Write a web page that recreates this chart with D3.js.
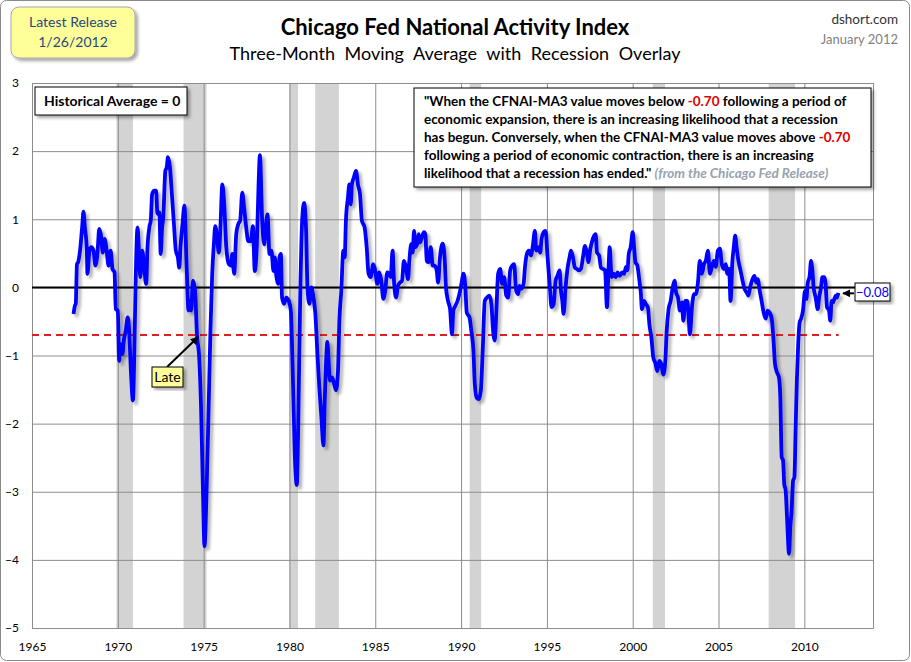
<!DOCTYPE html>
<html><head><meta charset="utf-8">
<script src="https://cdn.jsdelivr.net/npm/d3@7/dist/d3.min.js"></script>
<style>
html,body{margin:0;padding:0;background:#fff;}
svg text{font-family:Lato,"Open Sans",sans-serif;}
</style></head>
<body><svg id="chart" width="911" height="662"></svg>
<script>
// ---- DATA ----
const xTicks = [1965,1970,1975,1980,1985,1990,1995,2000,2005,2010];
const yTicks = [-5,-4,-3,-2,-1,0,1,2,3];
const recessions = [[1969.92,1970.88],[1973.83,1975.17],[1980.0,1980.5],[1981.5,1982.88],[1990.5,1991.17],[2001.17,2001.88],[2007.92,2009.46]];
const cfnaiMA3 = [
[1967.42,-0.39],[1967.5,-0.27],[1967.55,-0.24],[1967.62,0.34],[1967.69,0.37],[1967.8,0.54],[1967.92,0.88],[1968.0,1.11],[1968.08,0.88],[1968.19,0.59],[1968.23,0.2],[1968.35,0.54],[1968.46,0.59],[1968.58,0.54],[1968.7,0.32],[1968.81,0.49],[1968.92,0.86],[1969.04,0.73],[1969.12,0.51],[1969.23,0.71],[1969.35,0.54],[1969.46,0.32],[1969.58,0.54],[1969.69,0.27],[1969.81,0.22],[1969.88,-0.32],[1970.0,-0.34],[1970.08,-1.08],[1970.15,-0.83],[1970.27,-0.98],[1970.35,-0.78],[1970.46,-0.64],[1970.58,-0.44],[1970.65,-0.59],[1970.77,-1.27],[1970.88,-1.66],[1970.96,-0.98],[1971.04,0.1],[1971.15,0.88],[1971.23,0.54],[1971.31,0.15],[1971.42,0.54],[1971.54,0.29],[1971.65,0.05],[1971.73,0.59],[1971.85,0.9],[1971.92,0.98],[1972.0,1.37],[1972.12,1.42],[1972.23,1.42],[1972.31,1.08],[1972.42,1.1],[1972.5,0.49],[1972.58,0.88],[1972.65,1.03],[1972.77,1.71],[1972.85,1.76],[1972.92,1.91],[1973.04,1.76],[1973.15,1.37],[1973.27,0.93],[1973.38,0.54],[1973.5,0.44],[1973.58,0.29],[1973.65,0.59],[1973.77,0.93],[1973.88,1.2],[1974.0,0.39],[1974.12,-0.34],[1974.19,-0.2],[1974.27,-0.34],[1974.38,0.1],[1974.5,-0.05],[1974.62,-0.73],[1974.73,-0.98],[1974.85,-1.76],[1974.96,-2.98],[1975.05,-3.8],[1975.17,-3.0],[1975.28,-1.9],[1975.4,-0.6],[1975.5,0.2],[1975.6,0.65],[1975.68,0.9],[1975.78,0.73],[1975.89,0.51],[1975.97,0.83],
[1976.09,1.51],[1976.2,1.22],[1976.32,0.59],[1976.47,0.34],[1976.59,0.32],[1976.67,0.49],[1976.78,0.2],[1976.9,0.78],[1977.02,0.93],[1977.13,0.98],[1977.25,1.39],[1977.36,1.17],[1977.48,0.88],[1977.6,0.68],[1977.75,0.68],[1977.87,0.9],[1977.98,0.24],[1978.1,0.63],[1978.2,1.5],[1978.28,1.94],[1978.41,0.98],[1978.53,0.63],[1978.6,0.83],[1978.72,1.07],[1978.84,0.49],[1978.95,0.54],[1979.07,0.24],[1979.15,0.44],[1979.22,0.2],[1979.34,0.05],[1979.42,0.44],[1979.5,0.49],[1979.57,-0.15],[1979.69,-0.24],[1979.81,-0.15],[1979.96,-0.2],[1980.08,-0.34],[1980.19,-1.22],[1980.31,-2.44],[1980.43,-2.9],[1980.5,-2.2],[1980.62,-0.24],[1980.74,0.98],[1980.85,1.24],[1980.97,0.83],[1981.05,0],[1981.16,-0.24],[1981.28,0],[1981.4,-0.15],[1981.51,-0.39],[1981.63,-0.98],[1981.74,-1.46],[1981.86,-1.9],[1981.98,-2.32],[1982.05,-1.71],[1982.13,-1.12],[1982.21,-0.8],[1982.29,-1.12],[1982.36,-1.37],[1982.48,-1.32],[1982.6,-1.41],[1982.71,-1.51],[1982.83,-1.22],[1982.91,-0.49],[1983.02,-0.05],[1983.14,0.54],[1983.22,0.44],[1983.29,0.98],[1983.41,1.32],[1983.49,1.51],[1983.57,1.22],[1983.64,1.51],[1983.76,1.62],[1983.88,1.71],[1983.99,1.51],[1984.11,1.37],[1984.22,0.98],[1984.38,0.88],[1984.5,0.59],[1984.61,0.2],[1984.73,0.15],[1984.88,0.34],[1985.0,0.24],[1985.12,0.05],
[1985.23,0.22],[1985.35,0.1],[1985.47,-0.17],[1985.58,-0.05],[1985.7,0.22],[1985.82,0.2],[1985.9,0.15],[1986.01,0.54],[1986.09,0.1],[1986.21,-0.15],[1986.32,0.02],[1986.44,0.07],[1986.56,0.1],[1986.67,0.39],[1986.79,0.29],[1986.91,0.12],[1986.98,0.37],[1987.1,0.64],[1987.18,0.51],[1987.26,0.83],[1987.33,0.59],[1987.45,0.64],[1987.53,0.78],[1987.61,0.66],[1987.72,0.74],[1987.84,0.81],[1987.92,0.78],[1988.0,0.39],[1988.11,0.37],[1988.23,0.59],[1988.35,0.32],[1988.46,0.32],[1988.58,0.25],[1988.66,0.07],[1988.77,0.44],[1988.93,0.64],[1989.05,0.39],[1989.12,0],[1989.24,-0.2],[1989.36,-0.32],[1989.47,-0.69],[1989.55,-0.34],[1989.67,-0.27],[1989.79,-0.2],[1989.9,-0.1],[1990.02,0.05],[1990.14,0.2],[1990.25,0],[1990.33,-0.37],[1990.49,-0.44],[1990.6,-0.64],[1990.72,-0.93],[1990.8,-1.42],[1990.91,-1.62],[1991.03,-1.64],[1991.15,-1.52],[1991.26,-0.93],[1991.38,-0.2],[1991.5,-0.15],[1991.65,-0.12],[1991.77,-0.25],[1991.85,-0.59],[1991.96,-0.78],[1992.04,-0.44],[1992.16,0.2],[1992.28,0.27],[1992.39,0.05],[1992.51,0.15],[1992.63,-0.12],[1992.74,-0.15],[1992.86,0.25],[1992.98,0.32],[1993.09,0.34],[1993.21,-0.05],[1993.33,-0.1],[1993.4,0.02],[1993.52,-0.02],[1993.64,0.05],[1993.72,0.29],[1993.83,0.49],[1993.95,0.54],[1994.07,0.47],[1994.18,0.61],[1994.3,0.83],[1994.38,0.54],[1994.49,0.59],[1994.61,0.51],[1994.69,0.71],[1994.81,0.81],[1994.92,0.83],[1995.04,0.44],[1995.16,0.05],[1995.27,-0.29],[1995.39,-0.25],[1995.51,0.1],[1995.62,0.17],[1995.74,0.25],[1995.82,-0.05],[1995.9,-0.2],[1995.97,-0.39],[1996.09,0],[1996.21,0.29],[1996.32,0.44],[1996.4,0.54],[1996.52,0.44],[1996.63,0.29],[1996.75,0.27],[1996.87,0.25],[1996.98,0.27],[1997.1,0.44],[1997.22,0.61],[1997.33,0.51],[1997.41,0.37],[1997.53,0.56],[1997.65,0.69],[1997.76,0.76],[1997.84,0.78],[1997.92,0.51],[1998.04,0.47],[1998.15,0.29],[1998.27,0.27],[1998.39,0.25],[1998.5,-0.29],[1998.58,0.2],[1998.66,0.59],[1998.77,0.15],[1998.89,0.2],[1999.01,0.15],[1999.12,0.22],[1999.24,0.17],
[1999.38,0.22],[1999.5,0.2],[1999.61,0.3],[1999.69,0.25],[1999.77,0.49],[1999.88,0.59],[2000.0,0.81],[2000.08,0.59],[2000.16,0.37],[2000.27,0.32],[2000.39,0.1],[2000.47,-0.07],[2000.54,-0.32],[2000.66,-0.2],[2000.78,-0.25],[2000.89,-0.3],[2000.97,-0.54],[2001.09,-0.74],[2001.2,-1.03],[2001.32,-1.11],[2001.43,-1.23],[2001.55,-1.08],[2001.67,-1.13],[2001.78,-1.28],[2001.9,-1.08],[2001.98,-0.64],[2002.09,-0.32],[2002.21,-0.2],[2002.33,0],[2002.44,0.1],[2002.52,-0.07],[2002.64,-0.15],[2002.75,-0.34],[2002.87,-0.22],[2002.95,-0.49],[2003.06,-0.2],[2003.18,-0.2],[2003.26,-0.44],[2003.33,-0.69],[2003.45,-0.3],[2003.57,-0.1],[2003.68,-0.1],[2003.8,0.07],[2003.91,0.39],[2004.03,0.2],[2004.15,0.34],[2004.26,0.39],[2004.38,0.54],[2004.5,0.2],[2004.61,0.3],[2004.73,0.39],[2004.84,0.3],[2004.96,0.54],[2005.08,0.57],[2005.19,0.34],[2005.31,0.27],[2005.43,0.34],[2005.5,0.2],[2005.62,0.27],[2005.7,-0.2],[2005.81,0.39],[2005.89,0.59],[2005.97,0.76],[2006.05,0.59],[2006.16,0.39],[2006.28,0.25],[2006.4,0.1],[2006.51,-0.02],[2006.63,-0.07],[2006.74,-0.12],[2006.86,0.02],[2006.98,0.12],
[2007.09,0.17],[2007.2,0.07],[2007.28,0.12],[2007.4,-0.05],[2007.51,-0.2],[2007.63,-0.37],[2007.75,-0.46],[2007.86,-0.34],[2007.98,-0.37],[2008.1,-0.46],[2008.21,-0.8],[2008.29,-1.12],[2008.41,-1.25],[2008.52,-1.32],[2008.6,-1.61],[2008.68,-2.49],[2008.76,-2.54],[2008.83,-2.89],[2008.91,-2.98],[2008.99,-3.37],[2009.11,-3.91],[2009.18,-3.52],[2009.26,-3.28],[2009.34,-2.84],[2009.42,-2.79],[2009.5,-2.0],[2009.57,-1.32],[2009.65,-0.78],[2009.73,-0.51],[2009.81,-0.46],[2009.92,-0.34],[2010.04,-0.05],[2010.12,-0.17],[2010.19,0.05],[2010.31,0.17],[2010.39,0.39],[2010.47,0.24],[2010.54,0],[2010.66,-0.15],[2010.78,-0.32],[2010.85,-0.17],[2010.97,0],[2011.05,0.15],[2011.17,0.15],[2011.24,0.05],[2011.32,-0.29],[2011.44,-0.34],[2011.51,-0.49],[2011.59,-0.2],[2011.67,-0.22],[2011.75,-0.17],[2011.83,-0.12],[2011.9,-0.15],[2011.98,-0.08]
];
const threshold = -0.70;
const latestValue = -0.08;
const lateYear = 1974.62;

// ---- CHART ----
const svg = d3.select("#chart");
const x = d3.scaleLinear().domain([1965, 2014]).range([32, 873]);
const y = d3.scaleLinear().domain([-5, 3]).range([628, 83]);

const defs = svg.append("defs");
const f = defs.append("filter").attr("id","shadow").attr("x","-20%").attr("y","-20%").attr("width","140%").attr("height","140%");
f.append("feDropShadow").attr("dx",2.5).attr("dy",2.5).attr("stdDeviation",1.5).attr("flood-color","#000").attr("flood-opacity",0.35);
const f2 = defs.append("filter").attr("id","lshadow").attr("x","-5%").attr("y","-5%").attr("width","110%").attr("height","110%");
f2.append("feDropShadow").attr("dx",3).attr("dy",3).attr("stdDeviation",1.6).attr("flood-color","#000").attr("flood-opacity",0.3);
defs.append("marker").attr("id","arrow").attr("viewBox","0 0 10 10").attr("refX",9).attr("refY",5)
  .attr("markerWidth",4).attr("markerHeight",4).attr("orient","auto")
  .append("path").attr("d","M0,0L10,5L0,10z").attr("fill","#000");

svg.append("rect").attr("x",0.5).attr("y",0.5).attr("width",909).attr("height",660).attr("rx",6)
  .attr("fill","#fff").attr("stroke","#8a8a8a");

// recession bands
svg.append("g").selectAll("rect").data(recessions).join("rect")
  .attr("x", d => x(d[0])).attr("width", d => x(d[1]) - x(d[0]))
  .attr("y", y(3)).attr("height", y(-5) - y(3)).attr("fill", "#d3d3d3");

// grid
const yAxis = d3.axisLeft(y).tickValues(yTicks).tickSize(-(x(2014)-x(1965))).tickPadding(13).tickFormat(d3.format("d"));
const gy = svg.append("g").attr("transform",`translate(${x(1965)},0)`).call(yAxis);
gy.select(".domain").attr("stroke","#8c8c8c");
gy.selectAll(".tick line").attr("stroke","#8c8c8c");
gy.selectAll(".tick text").attr("font-size",12).attr("fill","#000").attr("font-family","Lato");

const xAxis = d3.axisBottom(x).tickValues(xTicks).tickSize(-(y(-5)-y(3))).tickPadding(14).tickFormat(d3.format("d"));
const gx = svg.append("g").attr("transform",`translate(0,${y(-5)})`).call(xAxis);
gx.select(".domain").attr("stroke","#8c8c8c");
gx.selectAll(".tick line").attr("stroke","#8c8c8c");
gx.selectAll(".tick text").attr("font-size",12).attr("fill","#000").attr("font-family","Lato");

// zero line & threshold
svg.append("line").attr("x1",x(1965)).attr("x2",x(2014)).attr("y1",y(0)).attr("y2",y(0)).attr("stroke","#000").attr("stroke-width",2);
svg.append("line").attr("x1",x(1965)).attr("x2",x(2012)).attr("y1",y(threshold)).attr("y2",y(threshold))
  .attr("stroke","#e02020").attr("stroke-width",2).attr("stroke-dasharray","7,5");

// series line
const line = d3.line().x(d => x(d[0])).y(d => y(d[1])).curve(d3.curveMonotoneX);
svg.append("path").datum(cfnaiMA3).attr("d", line).attr("fill","none").attr("stroke","#0000ff")
  .attr("stroke-width",3.8).attr("stroke-linejoin","round").attr("filter","url(#lshadow)");

// Title block
svg.append("text").attr("x",455).attr("y",35).attr("text-anchor","middle").attr("font-size",22).attr("font-weight","bold").text("Chicago Fed National Activity Index");
svg.append("text").attr("x",455).attr("y",60).attr("text-anchor","middle").attr("font-size",18).attr("word-spacing",5).text("Three-Month Moving Average with Recession Overlay");
svg.append("text").attr("x",898).attr("y",24).attr("text-anchor","end").attr("font-size",13.5).attr("fill","#333").text("dshort.com");
svg.append("text").attr("x",898).attr("y",44).attr("text-anchor","end").attr("font-size",13).attr("fill","#7f7f7f").text("January 2012");

// badge
svg.append("rect").attr("x",11).attr("y",7).attr("width",124).attr("height",51).attr("rx",8)
  .attr("fill","#ffff99").attr("stroke","#a6a6a6").attr("filter","url(#shadow)");
svg.append("text").attr("x",73).attr("y",27).attr("text-anchor","middle").attr("font-size",14).attr("fill","#1f497d").text("Latest Release");
svg.append("text").attr("x",73).attr("y",47).attr("text-anchor","middle").attr("font-size",14).attr("fill","#1f497d").text("1/26/2012");

// historical average box
svg.append("rect").attr("x",35).attr("y",87).attr("width",152).attr("height",28).attr("fill","#fff").attr("stroke","#000").attr("filter","url(#shadow)");
svg.append("text").attr("x",44).attr("y",106).attr("font-size",14).attr("font-weight","bold").text("Historical Average = 0");

// quote box
svg.append("rect").attr("x",414).attr("y",88).attr("width",457).attr("height",99).attr("fill","#fff").attr("stroke","#000").attr("filter","url(#shadow)");
const qLines = [
  [["\"When the CFNAI-MA3 value moves below ","#000"],["-0.70","#e00000"],[" following a period of","#000"]],
  [["economic expansion, there is an increasing likelihood that a recession","#000"]],
  [["has begun. Conversely, when the CFNAI-MA3 value moves above ","#000"],["-0.70","#e00000"]],
  [["following a period of economic contraction, there is an increasing","#000"]],
  [["likelihood that a recession has ended.\" ","#000"],["(from the Chicago Fed Release)","#98a2b0","italic"]]
];
const qt = svg.append("g");
qLines.forEach((ln,i) => {
  const t = qt.append("text").attr("x",424).attr("y",106 + i*18).attr("font-size",13.5).attr("font-weight","bold");
  ln.forEach(s => t.append("tspan").attr("fill",s[1]).attr("font-style",s[2]||"normal").text(s[0]));
});

// Late annotation
svg.append("line").attr("x1",167).attr("y1",367).attr("x2",x(lateYear)+1).attr("y2",y(threshold)+2)
  .attr("stroke","#000").attr("stroke-width",2).attr("marker-end","url(#arrow)");
svg.append("rect").attr("x",152).attr("y",367).attr("width",31).attr("height",20).attr("fill","#ffff99").attr("stroke","#000").attr("filter","url(#shadow)");
svg.append("text").attr("x",167.5).attr("y",382).attr("text-anchor","middle").attr("font-size",14).text("Late");

// latest value label
svg.append("line").attr("x1",854).attr("y1",y(latestValue)+0.5).attr("x2",843).attr("y2",y(latestValue)+0.5)
  .attr("stroke","#000").attr("stroke-width",2).attr("marker-end","url(#arrow)");
svg.append("rect").attr("x",855).attr("y",283).attr("width",35).attr("height",18).attr("fill","#fff").attr("stroke","#000").attr("filter","url(#shadow)");
svg.append("text").attr("x",872.5).attr("y",296.5).attr("text-anchor","middle").attr("font-size",13).attr("fill","#0000ff").text(d3.format(".2f")(latestValue));
</script></body></html>
